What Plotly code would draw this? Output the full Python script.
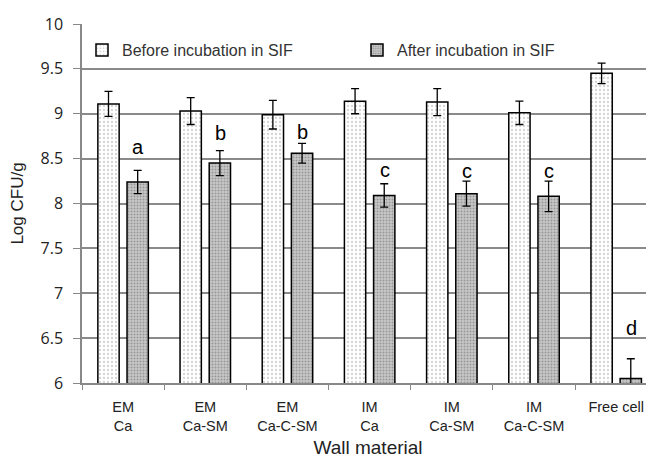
import plotly.graph_objects as go

categories = ["EM<br>Ca", "EM<br>Ca-SM", "EM<br>Ca-C-SM", "IM<br>Ca", "IM<br>Ca-SM", "IM<br>Ca-C-SM", "Free cell"]
before = [9.11, 9.03, 8.99, 9.14, 9.13, 9.01, 9.45]
before_err = [0.14, 0.15, 0.16, 0.14, 0.15, 0.13, 0.115]
after = [8.24, 8.45, 8.56, 8.09, 8.11, 8.08, 6.05]
after_err = [0.13, 0.14, 0.11, 0.13, 0.14, 0.17, 0.22]
letters = ["a", "b", "b", "c", "c", "c", "d"]
letter_y = [8.63, 8.79, 8.80, 8.37, 8.36, 8.36, 6.61]

fig = go.Figure()
fig.add_trace(go.Bar(
    name="Before incubation in SIF", x=categories, y=before,
    error_y=dict(type="data", array=before_err, color="black", thickness=1.3, width=4),
    marker=dict(color="white", line=dict(color="black", width=1.5),
                pattern=dict(shape=".", fgcolor="#a8a8a8", size=4, solidity=0.25)),
))
fig.add_trace(go.Bar(
    name="After incubation in SIF", x=categories, y=after,
    error_y=dict(type="data", array=after_err, color="black", thickness=1.3, width=4),
    marker=dict(color="#c8c8c8", line=dict(color="black", width=1.5),
                pattern=dict(shape=".", fgcolor="#666666", size=3, solidity=0.35)),
))

for c, t, yy in zip(categories, letters, letter_y):
    fig.add_annotation(x=c, y=yy, text=t, showarrow=False, xshift=15,
                       font=dict(family="Arial", size=20, color="black"))

fig.update_layout(
    width=646, height=453,
    margin=dict(l=74, r=0, t=16, b=78, autoexpand=False),
    paper_bgcolor="white", plot_bgcolor="white",
    barmode="group", bargap=0.29, bargroupgap=0.27,
    font=dict(family="Arial", color="#222"),
    legend=dict(orientation="h", x=0.0, y=0.975, xanchor="left", yanchor="top",
                font=dict(family="Arial", size=16, color="#333"), itemwidth=30,
                entrywidth=230, entrywidthmode="pixels", bgcolor="rgba(0,0,0,0)"),
    xaxis=dict(range=[-0.5, 6.46], tickson="boundaries", ticks="outside", ticklen=5,
               tickcolor="#888", showline=True, linecolor="#888", linewidth=1.5,
               automargin=False, ticklabelstandoff=10, ticklabeloverflow="allow",
               tickfont=dict(family="Arial", size=14.5, color="#222"),
               title=dict(text="Wall material", font=dict(family="Arial", size=19, color="#222"), standoff=8)),
    yaxis=dict(range=[6, 10], dtick=0.5, ticks="outside", ticklen=7, tickcolor="#888",
               showline=True, linecolor="#888", linewidth=1.5, automargin=False,
               gridcolor="#8a8a8a", gridwidth=1.5, tickformat="~g", ticklabelstandoff=7,
               tickfont=dict(family="Open Sans", size=16, color="#222"),
               title=dict(text="Log CFU/g", font=dict(family="Arial", size=17, color="#222"), standoff=13)),
)
fig.write_html("out.html")
